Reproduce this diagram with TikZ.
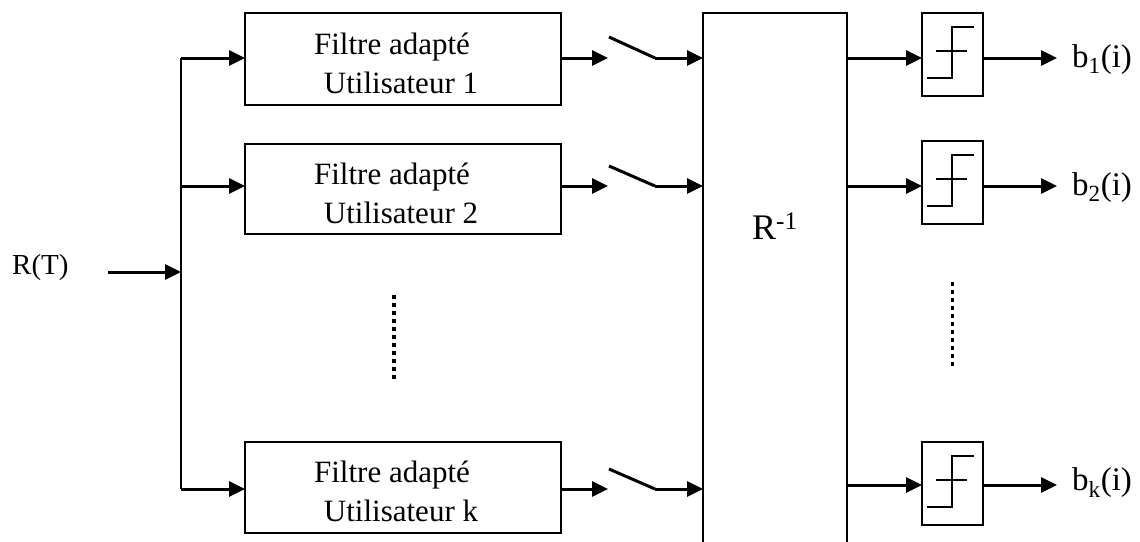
\documentclass[tikz,border=0pt]{standalone}
\usepackage{fontspec}
\setmainfont{Liberation Serif}
\usetikzlibrary{arrows.meta}
\begin{document}
\begin{tikzpicture}[x=1pt,y=-1pt,
  box/.style={draw,line width=2pt,inner sep=0pt,outer sep=0pt},
  filt/.style={box,minimum width=316pt},
  dec/.style={box,minimum width=61pt,minimum height=83pt,anchor=north west},
  arr/.style={line width=3pt,-{Triangle[length=16pt,width=15pt]}},
  wire/.style={line width=3pt},
  txt/.style={font=\fontsize{31}{37}\selectfont,inner sep=0pt,anchor=base},
  lbl/.style={txt,anchor=base west},
  outlbl/.style={lbl,font=\fontsize{33}{39}\selectfont},
  symb/.style={line width=2pt},
  dots/.style={line width=4pt,dash pattern=on 4pt off 4pt}]
\useasboundingbox (0,0) rectangle (1140,541);

% matched filters
\node[filt,minimum height=92pt] (f1) at (403,59) {};
\node[txt] (f1a) at (392,54) {Filtre adapté};
\node[txt] (f1b) at (401,93) {Utilisateur 1};
\node[filt,minimum height=90pt] (f2) at (403,189) {};
\node[txt] (f2a) at (392,184) {Filtre adapté};
\node[txt] (f2b) at (401,223) {Utilisateur 2};
\node[filt,minimum height=91pt] (fk) at (403,487.5) {};
\node[txt] (fka) at (392,482) {Filtre adapté};
\node[txt] (fkb) at (401,521) {Utilisateur k};

% inverse correlation block
\node[box,minimum width=144pt,minimum height=560pt,anchor=north west] (R) at (703,13) {};
\node[lbl,font=\fontsize{36}{42}\selectfont] (Rl) at (752,239) {R\textsuperscript{-1}};

% decision devices
\node[dec] (d1) at (922,13) {};
\node[dec] (d2) at (922,141) {};
\node[dec] (dk) at (922,442) {};
\foreach \d in {d1,d2,dk}{
  \draw[symb,shift={(\d.north west)}] (5,65) -- (30,65) -- (30,14) -- (52,14);
  \draw[symb,shift={(\d.north west)}] (14,38) -- (45,38);
}

% input and distribution bus
\node[lbl,font=\fontsize{29}{35}\selectfont] (rt) at (12,274) {R(T)};
\coordinate (rin) at (108,272);
\coordinate (bj) at (181,272);
\coordinate (bus1) at (181,58);
\coordinate (bus2) at (181,186);
\coordinate (busk) at (181,489);
\draw[wire,line width=2.5pt] (bus1) -- (busk);
\draw[arr] (rin) -- (bj);
\draw[arr] (bus1) -- (bus1 -| f1.west);
\draw[arr] (bus2) -- (bus2 -| f2.west);
\draw[arr] (busk) -- (busk -| fk.west);

% sampling switches
\coordinate (s1i) at (608,58);  \coordinate (s1t) at (609,37);  \coordinate (s1o) at (655,58);
\coordinate (s2i) at (608,186); \coordinate (s2t) at (609,166); \coordinate (s2o) at (655,186);
\coordinate (ski) at (608,489); \coordinate (skt) at (609,469); \coordinate (sko) at (655,489);
\draw[arr] (s1i -| f1.east) -- (s1i);
\draw[arr] (s2i -| f2.east) -- (s2i);
\draw[arr] (ski -| fk.east) -- (ski);
\draw[wire] (s1t) -- (s1o);
\draw[wire] (s2t) -- (s2o);
\draw[wire] (skt) -- (sko);
\draw[arr] (s1o) -- (s1o -| R.west);
\draw[arr] (s2o) -- (s2o -| R.west);
\draw[arr] (sko) -- (sko -| R.west);

% outputs
\coordinate (o1) at (1057,58);
\coordinate (o2) at (1057,186);
\coordinate (ok) at (1057,485);
\draw[arr] (o1 -| R.east) -- (o1 -| d1.west);
\draw[arr] (o2 -| R.east) -- (o2 -| d2.west);
\draw[arr] (ok -| R.east) -- (ok -| dk.west);
\draw[arr] (o1 -| d1.east) -- (o1);
\draw[arr] (o2 -| d2.east) -- (o2);
\draw[arr] (ok -| dk.east) -- (ok);
\node[outlbl] (b1) at (1072,67) {b\textsubscript{1}(i)};
\node[outlbl] (b2) at (1072,195) {b\textsubscript{2}(i)};
\node[outlbl] (bk) at (1072,490) {b\textsubscript{k}(i)};

% ellipsis dots
\draw[dots] (394,295) -- (394,381);
\draw[dots,line width=3pt] (952,282) -- (952,366);
\end{tikzpicture}
\end{document}
